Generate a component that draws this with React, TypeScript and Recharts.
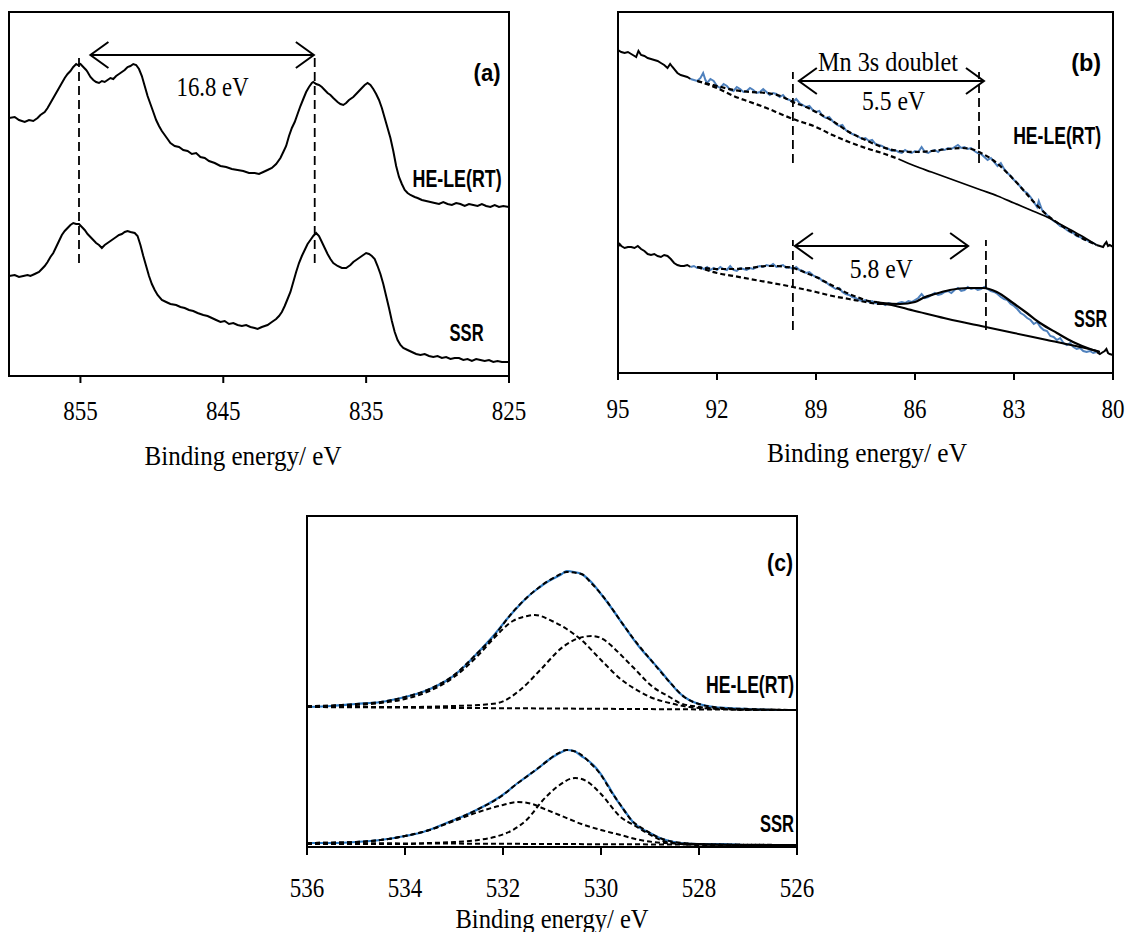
import { LineChart, Line, XAxis, YAxis, ReferenceLine, ReferenceDot, ReferenceArea } from "recharts";

type Pt = [number, number];
type Note = { text: string; e: number; i: number; w: number; bold?: boolean; end?: boolean };

const SERIF = "'Liberation Serif', 'Times New Roman', serif";
const SANS = "'Liberation Sans Narrow', 'Liberation Sans', Arial, sans-serif";
const BLUE_B = "#4F81BD";
const BLUE_C = "#2E7BC4";

// (a) Mn 2p, intensity in arbitrary units
const mn2pTicks = [855, 845, 835, 825];
const mn2pHE: Pt[] = [
  [860.0, 258], [859.6, 259], [859.3, 256], [858.9, 254], [858.6, 256], [858.3, 255], [858.0, 258], [857.8, 261],
  [857.5, 264], [857.3, 268], [857.1, 273], [856.9, 278], [856.7, 283], [856.5, 288], [856.3, 293], [856.1, 298],
  [855.9, 302], [855.7, 305], [855.5, 309], [855.3, 312], [855.2, 311], [855.0, 312], [854.8, 309], [854.6, 306],
  [854.5, 304], [854.3, 299], [854.1, 296], [853.9, 294], [853.7, 293], [853.5, 295], [853.3, 294], [853.1, 296],
  [852.9, 298], [852.7, 297], [852.5, 300], [852.3, 302], [852.1, 304], [851.9, 306], [851.7, 309], [851.5, 310],
  [851.3, 312], [851.1, 311], [850.9, 307], [850.7, 300], [850.5, 290], [850.3, 280], [850.1, 272], [849.9, 264],
  [849.7, 256], [849.5, 250], [849.3, 245], [849.1, 241], [848.9, 237], [848.7, 233], [848.4, 230], [848.1, 229],
  [847.8, 226], [847.5, 225], [847.2, 222], [846.9, 223], [846.6, 219], [846.3, 218], [846.0, 215], [845.6, 213],
  [845.2, 210], [844.8, 209], [844.4, 207], [844.0, 206], [843.6, 205], [843.2, 203], [842.8, 203], [842.5, 202],
  [842.2, 204], [841.9, 206], [841.6, 208], [841.3, 212], [841.0, 218], [840.8, 224], [840.6, 230], [840.4, 240],
  [840.2, 248], [840.0, 254], [839.8, 262], [839.6, 270], [839.4, 277], [839.2, 284], [839.0, 289], [838.8, 293],
  [838.7, 294], [838.5, 292], [838.3, 291], [838.1, 289], [837.9, 286], [837.7, 283], [837.5, 281], [837.3, 278],
  [837.0, 274], [836.8, 272], [836.6, 271], [836.4, 273], [836.2, 276], [835.9, 279], [835.7, 282], [835.5, 285],
  [835.3, 288], [835.1, 291], [834.9, 293], [834.7, 291], [834.5, 287], [834.3, 282], [834.1, 276], [833.9, 268],
  [833.7, 258], [833.5, 248], [833.3, 238], [833.1, 225], [832.9, 210], [832.7, 199], [832.5, 192], [832.3, 186],
  [832.1, 183], [831.9, 181], [831.6, 179], [831.4, 178], [831.1, 176], [830.8, 175], [830.5, 174], [830.2, 173],
  [829.9, 172], [829.6, 174], [829.3, 172], [829.0, 171], [828.7, 173], [828.4, 172], [828.1, 170], [827.8, 172],
  [827.5, 171], [827.2, 170], [826.9, 172], [826.6, 170], [826.3, 169], [826.0, 171], [825.7, 169], [825.4, 170],
  [825.0, 169],
];
const mn2pSSR: Pt[] = [
  [860.0, 100], [859.6, 101], [859.3, 99], [859.0, 100], [858.7, 101], [858.5, 100], [858.2, 102], [857.9, 104],
  [857.7, 107], [857.5, 110], [857.3, 114], [857.1, 119], [856.9, 123], [856.7, 129], [856.5, 135], [856.3, 141],
  [856.1, 145], [855.9, 148], [855.7, 151], [855.5, 153], [855.3, 152], [855.1, 152], [854.9, 149], [854.7, 146],
  [854.5, 142], [854.3, 139], [854.1, 136], [853.9, 133], [853.7, 131], [853.5, 128], [853.3, 131], [853.1, 133],
  [852.9, 135], [852.7, 137], [852.5, 139], [852.3, 141], [852.1, 142], [851.9, 144], [851.7, 145], [851.5, 144],
  [851.2, 143], [851.0, 140], [850.8, 131], [850.6, 120], [850.4, 110], [850.2, 100], [850.0, 92], [849.8, 86],
  [849.6, 81], [849.3, 76], [849.0, 74], [848.7, 72], [848.3, 71], [848.0, 69], [847.7, 68], [847.4, 66],
  [847.1, 65], [846.8, 63], [846.4, 61], [846.1, 60], [845.8, 58], [845.5, 56], [845.2, 54], [844.9, 55],
  [844.6, 52], [844.3, 53], [844.0, 51], [843.7, 50], [843.4, 51], [843.1, 49], [842.8, 48], [842.6, 47],
  [842.3, 49], [842.1, 50], [841.9, 51], [841.6, 54], [841.3, 57], [841.1, 60], [840.9, 64], [840.7, 70],
  [840.5, 77], [840.3, 84], [840.1, 94], [839.9, 104], [839.7, 113], [839.5, 120], [839.3, 126], [839.1, 132],
  [838.9, 136], [838.7, 140], [838.5, 143], [838.3, 140], [838.1, 134], [837.9, 128], [837.7, 122], [837.5, 117],
  [837.3, 113], [837.0, 110], [836.7, 108], [836.4, 108], [836.1, 111], [835.9, 114], [835.7, 116], [835.4, 119],
  [835.2, 121], [835.0, 123], [834.8, 122], [834.6, 120], [834.4, 117], [834.2, 110], [834.0, 102], [833.8, 92],
  [833.6, 80], [833.4, 68], [833.2, 55], [833.0, 44], [832.8, 36], [832.6, 31], [832.4, 28], [832.1, 26],
  [831.8, 24], [831.5, 22], [831.2, 21], [830.9, 22], [830.6, 20], [830.3, 19], [830.0, 20], [829.7, 18],
  [829.4, 19], [829.1, 17], [828.8, 18], [828.5, 18], [828.2, 16], [827.9, 17], [827.6, 15], [827.3, 17],
  [827.0, 16], [826.7, 15], [826.4, 16], [826.1, 14], [825.8, 15], [825.5, 14], [825.0, 14],
];
const mn2pMarks = [855.1, 838.6];
const mn2pMarkSpan: Pt = [113, 321];
const mn2pArrow = { from: 854.3, to: 838.66, level: 321 };
const mn2pNotes: Note[] = [
  { text: "16.8 eV", e: 845.75, i: 289.5, w: 72 },
  { text: "(a)", e: 825.59, i: 304, w: 27, bold: true, end: true },
  { text: "HE-LE(RT)", e: 825.52, i: 198, w: 89, bold: true, end: true },
  { text: "SSR", e: 826.78, i: 44, w: 34, bold: true, end: true },
];

// (b) Mn 3s
const mn3sTicks = [95, 92, 89, 86, 83, 80];
const mn3sHERaw: Pt[] = [
  [95.0, 323], [94.9, 321], [94.8, 320], [94.7, 321], [94.6, 319], [94.5, 317], [94.45, 316], [94.38, 322],
  [94.3, 318], [94.2, 317], [94.1, 315], [94.0, 314], [93.9, 313], [93.8, 312], [93.7, 310], [93.6, 308],
  [93.5, 305], [93.42, 309], [93.35, 306], [93.2, 300], [93.1, 298], [93.0, 297], [92.9, 296], [92.8, 294],
  [92.7, 293], [92.6, 292], [92.5, 295], [92.42, 300], [92.35, 293], [92.3, 290], [92.2, 294], [92.1, 292],
  [92.0, 287], [91.9, 285], [91.8, 289], [91.7, 287], [91.6, 283], [91.5, 282], [91.4, 286], [91.3, 284],
  [91.2, 281], [91.1, 282], [91.0, 285], [90.9, 283], [90.8, 280], [90.7, 281], [90.6, 284], [90.5, 281],
  [90.4, 278], [90.3, 280], [90.2, 279], [90.1, 276], [90.0, 278], [89.9, 274], [89.8, 273], [89.7, 271],
  [89.6, 274], [89.5, 270], [89.4, 268], [89.3, 266], [89.2, 267], [89.1, 263], [89.0, 261], [88.9, 262],
  [88.8, 257], [88.7, 255], [88.6, 256], [88.5, 252], [88.4, 249], [88.3, 247], [88.2, 248], [88.1, 243],
  [88.0, 241], [87.9, 239], [87.8, 238], [87.7, 236], [87.6, 234], [87.5, 235], [87.4, 232], [87.3, 233],
  [87.2, 229], [87.1, 228], [87.0, 227], [86.9, 225], [86.8, 224], [86.7, 222], [86.6, 223], [86.5, 221],
  [86.4, 220], [86.3, 223], [86.2, 221], [86.1, 220], [86.0, 222], [85.9, 221], [85.8, 226], [85.7, 221],
  [85.6, 220], [85.5, 222], [85.4, 223], [85.3, 221], [85.2, 224], [85.1, 223], [85.0, 225], [84.9, 224],
  [84.8, 226], [84.7, 228], [84.6, 225], [84.5, 226], [84.4, 224], [84.3, 225], [84.2, 222], [84.1, 220],
  [84.0, 219], [83.9, 216], [83.8, 213], [83.7, 215], [83.6, 211], [83.5, 207], [83.4, 210], [83.3, 204],
  [83.2, 200], [83.1, 197], [83.0, 193], [82.9, 190], [82.8, 186], [82.7, 182], [82.6, 180], [82.5, 176],
  [82.4, 171], [82.3, 166], [82.25, 172], [82.15, 163], [82.0, 158], [81.9, 155], [81.8, 152], [81.7, 150],
  [81.6, 147], [81.5, 146], [81.4, 143], [81.3, 141], [81.2, 140], [81.1, 137], [81.0, 136], [80.9, 134],
  [80.8, 133], [80.7, 131], [80.6, 130], [80.5, 128], [80.4, 127], [80.3, 126], [80.25, 129], [80.2, 131],
  [80.15, 127], [80.1, 128], [80.0, 126],
];
const mn3sHEFit: Pt[] = [
  [92.6, 292], [92.0, 287], [91.5, 283], [91.0, 281], [90.5, 280], [90.0, 276], [89.7, 271], [89.3, 266],
  [89.0, 261], [88.5, 252], [88.0, 241], [87.5, 233], [87.0, 226], [86.5, 222], [86.0, 221], [85.5, 222],
  [85.0, 224], [84.6, 225], [84.3, 224], [84.0, 220], [83.6, 212], [83.2, 200], [82.8, 186], [82.4, 171],
  [82.0, 158], [81.5, 146], [81.0, 136], [80.5, 128],
];
const mn3sHEBg: Pt[] = [
  [92.6, 292], [92.0, 285], [91.5, 277], [91.0, 271], [90.5, 265], [90.0, 258], [89.7, 254], [89.0, 246],
  [88.5, 238], [88.0, 231], [87.5, 225], [87.0, 220], [86.5, 214], [86.0, 207], [85.5, 201], [85.0, 195],
  [84.5, 189], [84.0, 183], [83.5, 177], [83.0, 170], [82.5, 163], [82.0, 156], [81.5, 147], [81.0, 138],
  [80.5, 128],
];
const mn3sSSRRaw: Pt[] = [
  [95.0, 126], [94.95, 129], [94.9, 127], [94.8, 125], [94.7, 126], [94.6, 126], [94.5, 125], [94.4, 127],
  [94.3, 124], [94.2, 122], [94.1, 119], [94.0, 118], [93.9, 119], [93.8, 117], [93.7, 116], [93.6, 118],
  [93.5, 117], [93.4, 114], [93.3, 110], [93.2, 108], [93.1, 107], [93.0, 107], [92.9, 108], [92.8, 106],
  [92.7, 107], [92.6, 105], [92.5, 106], [92.4, 104], [92.3, 106], [92.2, 103], [92.1, 105], [92.0, 103],
  [91.9, 106], [91.8, 104], [91.7, 103], [91.6, 107], [91.5, 103], [91.4, 102], [91.3, 105], [91.2, 104],
  [91.1, 103], [91.0, 105], [90.9, 104], [90.8, 106], [90.7, 107], [90.6, 106], [90.5, 108], [90.4, 107],
  [90.3, 109], [90.2, 106], [90.1, 107], [90.0, 108], [89.9, 105], [89.8, 106], [89.7, 104], [89.6, 106],
  [89.5, 103], [89.4, 102], [89.3, 100], [89.2, 101], [89.1, 98], [89.0, 96], [88.9, 95], [88.8, 92],
  [88.7, 91], [88.6, 88], [88.5, 86], [88.4, 84], [88.3, 85], [88.2, 81], [88.1, 79], [88.0, 78],
  [87.9, 76], [87.8, 75], [87.7, 73], [87.6, 72], [87.5, 73], [87.4, 71], [87.3, 72], [87.2, 70],
  [87.1, 69], [87.0, 70], [86.9, 68], [86.8, 70], [86.7, 69], [86.6, 68], [86.5, 70], [86.4, 71],
  [86.3, 70], [86.2, 72], [86.1, 71], [86.0, 73], [85.9, 75], [85.8, 79], [85.7, 75], [85.6, 76],
  [85.5, 78], [85.4, 80], [85.3, 78], [85.2, 79], [85.1, 81], [85.0, 82], [84.9, 80], [84.8, 83],
  [84.7, 85], [84.6, 82], [84.5, 83], [84.4, 86], [84.3, 84], [84.2, 85], [84.1, 83], [84.0, 84],
  [83.9, 86], [83.8, 84], [83.7, 82], [83.6, 81], [83.5, 79], [83.4, 76], [83.3, 74], [83.2, 73],
  [83.1, 69], [83.0, 67], [82.9, 64], [82.8, 60], [82.7, 58], [82.6, 55], [82.5, 53], [82.4, 49],
  [82.3, 51], [82.2, 46], [82.1, 43], [82.0, 42], [81.9, 37], [81.8, 36], [81.7, 33], [81.6, 35],
  [81.5, 30], [81.4, 28], [81.3, 30], [81.2, 26], [81.1, 24], [81.0, 25], [80.9, 22], [80.8, 21],
  [80.7, 22], [80.6, 20], [80.5, 21], [80.4, 19], [80.3, 21], [80.25, 22], [80.2, 24], [80.15, 20],
  [80.1, 19], [80.0, 18],
];
const mn3sSSRFit: Pt[] = [
  [92.6, 106], [92.0, 104], [91.5, 104], [91.0, 105], [90.5, 107], [90.2, 107], [89.9, 106], [89.7, 105],
  [89.3, 100], [89.0, 96], [88.6, 89], [88.3, 84], [88.0, 79], [87.76, 76], [87.4, 72], [87.15, 71],
  [86.97, 70], [86.45, 69], [86.0, 71], [85.76, 75], [85.4, 79], [84.94, 83], [84.4, 85], [83.94, 85],
  [83.52, 81], [83.03, 70], [82.61, 60], [82.21, 50], [81.7, 40], [81.21, 31], [80.61, 23], [80.4, 21],
];
const mn3sSSRBg: Pt[] = [
  [92.6, 106], [92.0, 100], [91.5, 97], [91.0, 94], [90.5, 91], [90.0, 88], [89.7, 86], [89.0, 81],
  [88.5, 77], [88.0, 74], [87.5, 71], [87.15, 69], [87.0, 69], [86.0, 62], [85.0, 54], [84.0, 47],
  [83.0, 40], [82.0, 33], [81.0, 26], [80.6, 23], [80.4, 21],
];
const mn3sFitRange: Pt = [80.5, 92.8];
const mn3sHEMarks = [89.7, 84.06];
const mn3sHESpan: Pt = [210, 301];
const mn3sHEArrow = { from: 89.52, to: 83.91, level: 292 };
const mn3sSSRMarks = [89.7, 83.85];
const mn3sSSRSpan: Pt = [43, 133];
const mn3sSSRArrow = { from: 89.64, to: 84.39, level: 127 };
const mn3sNotes: Note[] = [
  { text: "Mn 3s doublet", e: 86.82, i: 311, w: 140 },
  { text: "5.5 eV", e: 86.65, i: 272, w: 63 },
  { text: "5.8 eV", e: 87.02, i: 104, w: 63 },
  { text: "(b)", e: 80.36, i: 311, w: 30, bold: true, end: true },
  { text: "HE-LE(RT)", e: 80.36, i: 238, w: 88, bold: true, end: true },
  { text: "SSR", e: 80.18, i: 55, w: 33, bold: true, end: true },
];

// (c) O 1s
const o1sTicks = [536, 534, 532, 530, 528, 526];
const o1sHERaw: Pt[] = [
  [536.0, 140], [535.5, 141], [535.0, 143], [534.5, 145], [534.0, 150], [533.7, 154], [533.4, 160], [533.1, 168],
  [532.8, 180], [532.5, 195], [532.2, 211], [531.9, 229], [531.7, 240], [531.5, 250], [531.3, 258], [531.1, 265],
  [530.95, 269], [530.8, 273], [530.7, 276], [530.55, 275], [530.4, 273], [530.2, 265], [530.0, 253], [529.8, 240],
  [529.6, 226], [529.4, 212], [529.2, 199], [529.0, 188], [528.8, 177], [528.6, 165], [528.4, 154], [528.2, 147],
  [528.0, 143], [527.7, 140], [527.4, 139], [527.0, 138], [526.5, 137], [526.0, 137],
];
const o1sHEFit: Pt[] = [
  [536.0, 140], [535.0, 143], [534.5, 145], [534.0, 150], [533.5, 158], [533.0, 172], [532.5, 195], [532.2, 210],
  [531.8, 235], [531.5, 250], [531.2, 262], [530.9, 271], [530.7, 275], [530.4, 273], [530.2, 264], [529.9, 247],
  [529.6, 226], [529.3, 206], [529.0, 188], [528.6, 165], [528.3, 150], [528.0, 143], [527.5, 139], [527.0, 138],
  [526.0, 137],
];
const o1sHEPeak1: Pt[] = [
  [536.0, 141], [535.0, 142], [534.5, 144], [534.0, 148], [533.5, 156], [533.0, 170], [532.5, 192], [532.2, 208],
  [531.8, 226], [531.5, 231], [531.35, 232], [531.0, 226], [530.7, 218], [530.4, 207], [530.0, 187], [529.6, 168],
  [529.2, 155], [529.0, 150], [528.6, 144], [528.2, 140], [527.5, 138], [527.0, 137], [526.0, 137],
];
const o1sHEPeak2: Pt[] = [
  [536.0, 140], [534.0, 140], [533.0, 141], [532.5, 142], [532.1, 144], [531.65, 157], [531.24, 177], [530.78, 200],
  [530.5, 208], [530.18, 211], [529.9, 206], [529.76, 200], [529.35, 180], [528.94, 160], [528.6, 150], [528.39, 144],
  [527.98, 140], [527.5, 138], [526.0, 137],
];
const o1sHEBase: Pt[] = [[536.0, 140], [526.0, 137]];
const o1sSSRRaw: Pt[] = [
  [536.0, 4], [535.5, 4], [535.0, 5], [534.5, 7], [534.0, 11], [533.7, 14], [533.4, 19], [533.1, 25],
  [532.8, 31], [532.5, 38], [532.2, 46], [531.9, 56], [531.7, 64], [531.5, 71], [531.3, 78], [531.1, 86],
  [530.95, 91], [530.8, 95], [530.7, 97], [530.55, 96], [530.4, 91], [530.25, 86], [530.1, 79], [529.95, 69],
  [529.8, 57], [529.65, 45], [529.5, 35], [529.35, 25], [529.2, 19], [529.0, 14], [528.8, 9], [528.6, 6],
  [528.4, 4], [528.0, 3], [527.5, 3], [527.0, 2], [526.0, 2],
];
const o1sSSRFit: Pt[] = [
  [536.0, 4], [535.0, 5], [534.5, 7], [534.0, 11], [533.5, 17], [533.0, 27], [532.5, 38], [532.0, 52],
  [531.8, 60], [531.5, 71], [531.2, 82], [530.9, 93], [530.7, 97], [530.5, 95], [530.2, 83], [530.0, 72],
  [529.8, 56], [529.6, 42], [529.4, 28], [529.1, 17], [528.8, 9], [528.5, 5], [528.0, 3], [527.0, 2],
  [526.0, 2],
];
const o1sSSRPeak1: Pt[] = [
  [536.0, 4], [535.0, 5], [534.5, 7], [534.0, 11], [533.5, 17], [533.0, 26], [532.5, 35], [532.0, 42],
  [531.7, 45], [531.4, 43], [531.2, 39], [530.8, 31], [530.4, 23], [530.0, 17], [529.6, 12], [529.3, 8],
  [528.7, 4], [528.0, 3], [526.0, 2],
];
const o1sSSRPeak2: Pt[] = [
  [536.0, 3], [534.0, 3], [533.5, 4], [533.0, 5], [532.5, 7], [532.1, 11], [531.8, 17], [531.5, 28],
  [531.2, 46], [530.9, 60], [530.53, 69], [530.3, 66], [530.0, 53], [529.6, 30], [529.3, 21], [529.06, 14],
  [528.65, 5], [528.0, 2], [526.0, 2],
];
const o1sSSRBase: Pt[] = [[536.0, 4], [526.0, 2]];
const o1sNotes: Note[] = [
  { text: "(c)", e: 526.08, i: 285, w: 26, bold: true, end: true },
  { text: "HE-LE(RT)", e: 526.06, i: 163, w: 88, bold: true, end: true },
  { text: "SSR", e: 526.06, i: 24, w: 34, bold: true, end: true },
];

const rows = (pts: Pt[]) => pts.map(([e, i]) => ({ e, i }));
const within = (pts: Pt[], lo: number, hi: number) => pts.filter(([e]) => e >= lo && e <= hi);

function SerifTick({ x, y, payload, off }: any) {
  return (
    <text
      transform={`translate(${x},${y + off}) scale(1,1.17)`}
      textAnchor="middle"
      fontFamily={SERIF}
      fontSize={23}
      fill="#000"
    >
      {payload.value}
    </text>
  );
}

function AxisTitle({ viewBox, tdx, tdy, tw }: any) {
  if (!viewBox) return null;
  const x = viewBox.x + viewBox.width / 2 + tdx;
  const y = viewBox.y + tdy;
  return (
    <text
      transform={`translate(${x},${y}) scale(1,1.17)`}
      textAnchor="middle"
      fontFamily={SERIF}
      fontSize={23}
      textLength={tw}
      lengthAdjust="spacingAndGlyphs"
      fill="#000"
    >
      Binding energy/ eV
    </text>
  );
}

function NoteText({ cx, cy, n }: { cx: number; cy: number; n: Note }) {
  const size = n.bold ? 22 : 23;
  const sy = n.bold ? 1.12 : 1.15;
  return (
    <text
      transform={`translate(${cx},${cy + size * sy * 0.35}) scale(1,${sy})`}
      textAnchor={n.end ? "end" : "middle"}
      fontFamily={n.bold ? SANS : SERIF}
      fontWeight={n.bold ? 700 : 400}
      fontSize={size}
      textLength={n.w}
      lengthAdjust="spacingAndGlyphs"
      fill="#000"
    >
      {n.text}
    </text>
  );
}

function Arrow({ x1, y1, x2 }: any) {
  const l = Math.min(x1, x2);
  const r = Math.max(x1, x2);
  const y = y1;
  return (
    <g stroke="#000" strokeWidth={2} fill="none">
      <line x1={l} y1={y} x2={r} y2={y} />
      <polyline points={`${l + 18},${y - 13} ${l},${y} ${l + 18},${y + 13}`} />
      <polyline points={`${r - 18},${y - 13} ${r},${y} ${r - 18},${y + 13}`} />
    </g>
  );
}

const frame = { stroke: "#000", strokeWidth: 2 };

function axes(
  domain: [number, number],
  yMax: number,
  ticks: number[],
  axisH: number,
  tickSize: number,
  tickOff: number,
  title: { tdx: number; tdy: number; tw: number }
) {
  return [
    <XAxis
      key="xb"
      type="number"
      dataKey="e"
      domain={domain}
      reversed
      allowDataOverflow
      ticks={ticks}
      interval={0}
      height={axisH}
      tickSize={tickSize}
      tickMargin={0}
      axisLine={frame}
      tickLine={frame}
      tick={(p: any) => <SerifTick {...p} off={tickOff} />}
      label={{ content: (p: any) => <AxisTitle {...p} {...title} /> }}
    />,
    <YAxis key="yl" type="number" domain={[0, yMax]} allowDataOverflow hide />,
    // plot frame (left, top and right edges of the box)
    <ReferenceArea
      key="box"
      x1={domain[0]}
      x2={domain[1]}
      y1={0}
      y2={yMax}
      fill="none"
      stroke="#000"
      strokeWidth={2}
      ifOverflow="visible"
    />,
  ];
}

function curve(key: string, pts: Pt[], stroke: string, width: number, dash?: string, smooth?: boolean) {
  return (
    <Line
      key={key}
      data={rows(pts)}
      dataKey="i"
      type={smooth ? "monotone" : "linear"}
      stroke={stroke}
      strokeWidth={width}
      strokeDasharray={dash}
      dot={false}
      activeDot={false}
      isAnimationActive={false}
    />
  );
}

function marks(prefix: string, es: number[], span: Pt) {
  return es.map((e, k) => (
    <ReferenceLine
      key={`${prefix}-${k}`}
      segment={[{ x: e, y: span[0] }, { x: e, y: span[1] }]}
      stroke="#000"
      strokeWidth={1.8}
      strokeDasharray="9 5"
    />
  ));
}

function arrow(key: string, a: { from: number; to: number; level: number }) {
  return (
    <ReferenceLine
      key={key}
      segment={[{ x: a.from, y: a.level }, { x: a.to, y: a.level }]}
      stroke="#000"
      shape={(p: any) => <Arrow {...p} />}
    />
  );
}

function notes(prefix: string, list: Note[]) {
  return list.map((n, k) => (
    <ReferenceDot
      key={`${prefix}-${k}`}
      x={n.e}
      y={n.i}
      r={0}
      shape={(p: any) => <NoteText cx={p.cx} cy={p.cy} n={n} />}
    />
  ));
}

function Mn2p() {
  return (
    <div style={{ position: "absolute", left: 0, top: 0 }}>
      <LineChart width={530} height={480} margin={{ top: 12, right: 21, bottom: 0, left: 9 }}>
        {axes([825, 860], 364, mn2pTicks, 104, 7, 37, { tdx: -16, tdy: 89, tw: 197 })}
        {curve("he", mn2pHE, "#000", 2)}
        {curve("ssr", mn2pSSR, "#000", 2)}
        {marks("m", mn2pMarks, mn2pMarkSpan)}
        {arrow("arr", mn2pArrow)}
        {notes("n", mn2pNotes)}
      </LineChart>
    </div>
  );
}

function Mn3s() {
  const [lo, hi] = mn3sFitRange;
  return (
    <div style={{ position: "absolute", left: 560, top: 0 }}>
      <LineChart width={568} height={480} margin={{ top: 12, right: 15, bottom: 0, left: 58 }}>
        {axes([80, 95], 361, mn3sTicks, 107, 7, 38, { tdx: 1.5, tdy: 89, tw: 200 })}
        {curve("heRawL", within(mn3sHERaw, hi, 95), "#000", 2)}
        {curve("heRawR", within(mn3sHERaw, 80, lo), "#000", 2)}
        {curve("heRaw", within(mn3sHERaw, lo, hi), BLUE_B, 2)}
        {curve("heBgD", within(mn3sHEBg, 86.5, 95), "#000", 2.2, "5 3", true)}
        {curve("heBgS", within(mn3sHEBg, 80, 86.5), "#000", 1.8, undefined, true)}
        {curve("heFit", mn3sHEFit, "#000", 2.2, "5 3", true)}
        {curve("ssrRawL", within(mn3sSSRRaw, hi, 95), "#000", 2)}
        {curve("ssrRawR", within(mn3sSSRRaw, 80, lo), "#000", 2)}
        {curve("ssrRaw", within(mn3sSSRRaw, lo, hi), BLUE_B, 2)}
        {curve("ssrBgD", within(mn3sSSRBg, 87.15, 95), "#000", 2.2, "5 3", true)}
        {curve("ssrBgS", within(mn3sSSRBg, 80, 87.15), "#000", 2, undefined, true)}
        {curve("ssrFitD", within(mn3sSSRFit, 87.15, 95), "#000", 2.2, "5 3", true)}
        {curve("ssrFitS", within(mn3sSSRFit, 80, 87.15), "#000", 2.2, undefined, true)}
        {marks("mh", mn3sHEMarks, mn3sHESpan)}
        {marks("ms", mn3sSSRMarks, mn3sSSRSpan)}
        {arrow("ah", mn3sHEArrow)}
        {arrow("as", mn3sSSRArrow)}
        {notes("n", mn3sNotes)}
      </LineChart>
    </div>
  );
}

function O1s() {
  return (
    <div style={{ position: "absolute", left: 260, top: 480 }}>
      <LineChart width={560} height={452} margin={{ top: 36, right: 23, bottom: 0, left: 47 }}>
        {axes([526, 536], 331, o1sTicks, 85, 8, 42, { tdx: 0, tdy: 81, tw: 193 })}
        {curve("heRaw", o1sHERaw, BLUE_C, 2.2, undefined, true)}
        {curve("heBase", o1sHEBase, "#000", 2, "5 3")}
        {curve("heP1", o1sHEPeak1, "#000", 2, "5 3", true)}
        {curve("heP2", o1sHEPeak2, "#000", 2, "5 3", true)}
        {curve("heFit", o1sHEFit, "#000", 2, "5 3", true)}
        {curve("ssrRaw", o1sSSRRaw, BLUE_C, 2.2, undefined, true)}
        {curve("ssrBase", o1sSSRBase, "#000", 2, "5 3")}
        {curve("ssrP1", o1sSSRPeak1, "#000", 2, "5 3", true)}
        {curve("ssrP2", o1sSSRPeak2, "#000", 2, "5 3", true)}
        {curve("ssrFit", o1sSSRFit, "#000", 2, "5 3", true)}
        {notes("n", o1sNotes)}
      </LineChart>
    </div>
  );
}

export default function App() {
  return (
    <div style={{ position: "absolute", left: 0, top: 0, width: 1128, height: 932, background: "#fff" }}>
      <Mn2p />
      <Mn3s />
      <O1s />
    </div>
  );
}
